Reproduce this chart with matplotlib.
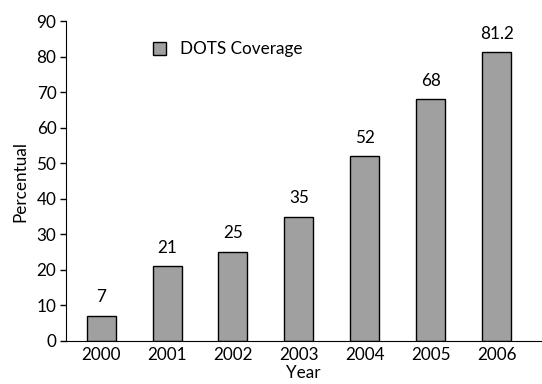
import matplotlib.pyplot as plt

years = ['2000', '2001', '2002', '2003', '2004', '2005', '2006']
coverage = [7, 21, 25, 35, 52, 68, 81.2]
value_labels = ['7', '21', '25', '35', '52', '68', '81.2']

plt.rcParams['font.family'] = ['Lato', 'DejaVu Sans']
plt.rcParams['font.size'] = 12.3

fig = plt.figure(figsize=(5.42, 3.84), dpi=100)
ax = fig.add_axes([0.122, 0.112, 0.876, 0.833])

x = range(len(years))
bars = ax.bar(x, coverage, width=0.44, color='#a0a0a0', edgecolor='black',
              linewidth=1.0, label='DOTS Coverage')

for xi, v, lab in zip(x, coverage, value_labels):
    ax.text(xi, v + 3, lab, ha='center', va='bottom')

ax.set_xlim(-0.53, 6.67)
ax.set_ylim(0, 90)
ax.set_yticks(range(0, 91, 10))
ax.set_xticks(list(x))
ax.set_xticklabels(years)
ax.tick_params(axis='x', length=0, pad=4)
ax.tick_params(axis='y', length=4, width=1, direction='out', pad=3)

ax.spines['top'].set_visible(False)
ax.spines['right'].set_visible(False)

ax.set_xlabel('Year', labelpad=2)
ax.set_ylabel('Percentual', labelpad=6)

ax.legend(loc='upper left', bbox_to_anchor=(0.15, 0.985), frameon=False,
          handlelength=0.75, handleheight=0.75, handletextpad=0.85)

plt.savefig('out.png', dpi=100)
